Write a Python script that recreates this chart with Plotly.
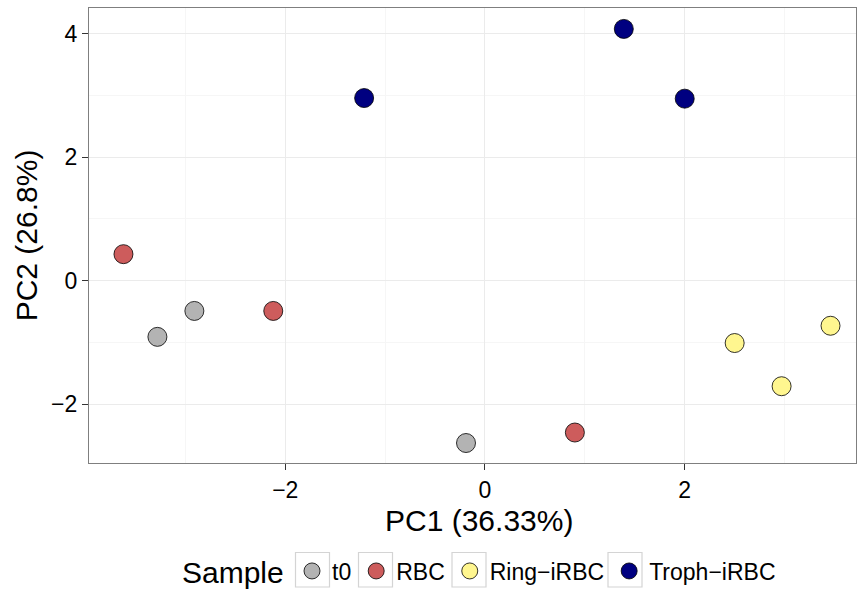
import plotly.graph_objects as go

# PCA scores per sample group
groups = ["t0", "RBC", "Ring−iRBC", "Troph−iRBC"]
colors = ["#b3b3b3", "#cd5c5c", "#fff68f", "#000080"]

t0_pc1 = [-2.91, -3.28, -0.19]
t0_pc2 = [-0.49, -0.91, -2.63]
rbc_pc1 = [-3.62, -2.12, 0.90]
rbc_pc2 = [0.43, -0.49, -2.46]
ring_pc1 = [2.50, 2.97, 3.46]
ring_pc2 = [-1.01, -1.71, -0.73]
troph_pc1 = [-1.21, 1.39, 2.00]
troph_pc2 = [2.96, 4.08, 2.95]

pc1 = [t0_pc1, rbc_pc1, ring_pc1, troph_pc1]
pc2 = [t0_pc2, rbc_pc2, ring_pc2, troph_pc2]

FONT = "Liberation Sans, Arial, Helvetica, sans-serif"

W, H = 857, 590
ML, MR, MT, MB = 89, 1, 8, 127
pw, ph = W - ML - MR, H - MT - MB


def px_x(p):
    return (p - ML) / pw


def px_y(p):
    return (H - MB - p) / ph


fig = go.Figure()
for name, col, xs, ys in zip(groups, colors, pc1, pc2):
    fig.add_trace(go.Scatter(
        x=xs, y=ys, mode="markers", name=name,
        marker=dict(size=19, color=col, line=dict(color="black", width=0.8)),
    ))

axis_common = dict(
    showline=True, mirror=True, linecolor="#7f7f7f", linewidth=1.2,
    gridcolor="#ebebeb", gridwidth=1,
    ticks="outside", ticklen=6, tickcolor="#333333", tickwidth=1.2,
    tickfont=dict(family=FONT, size=23, color="black"),
    zeroline=False,
    minor=dict(showgrid=True, gridcolor="#f6f6f6", gridwidth=1, dtick=1, ticks=""),
    dtick=2,
)

# light grey key boxes drawn behind the legend symbols
key_centers = [312.5, 375.5, 469, 625]
key_shapes = []
for cx in key_centers:
    key_shapes.append(dict(
        type="rect", xref="paper", yref="paper", layer="below",
        x0=px_x(cx - 17), x1=px_x(cx + 17),
        y0=px_y(587), y1=px_y(552.5),
        line=dict(color="#d4d4d4", width=1.2), fillcolor="white",
    ))

annotations = [
    dict(text="PC1 (36.33%)", xref="paper", yref="paper",
         x=px_x(478.5), y=px_y(520), xanchor="center", yanchor="middle",
         showarrow=False, font=dict(family=FONT, size=30, color="black")),
    dict(text="Sample", xref="paper", yref="paper",
         x=px_x(286), y=px_y(572), xanchor="right", yanchor="middle",
         showarrow=False, font=dict(family=FONT, size=30, color="black")),
]

fig.update_layout(
    width=W, height=H,
    margin=dict(l=ML, r=MR, t=MT, b=MB, autoexpand=False),
    paper_bgcolor="white", plot_bgcolor="white",
    font=dict(family=FONT, color="black"),
    xaxis=dict(range=[-3.965, 3.715], tick0=0, **axis_common),
    yaxis=dict(range=[-2.954, 4.419], tick0=0,
               title=dict(text="PC2 (26.8%)", font=dict(family=FONT, size=30), standoff=4),
               **axis_common),
    shapes=key_shapes,
    annotations=annotations,
    showlegend=True,
    legend=dict(
        orientation="h", x=px_x(292), xanchor="left", y=px_y(571), yanchor="middle",
        font=dict(family=FONT, size=23, color="black"),
        itemsizing="trace", tracegroupgap=0, itemwidth=30,
        bgcolor="rgba(0,0,0,0)",
    ),
)

fig.write_html("out.html")
